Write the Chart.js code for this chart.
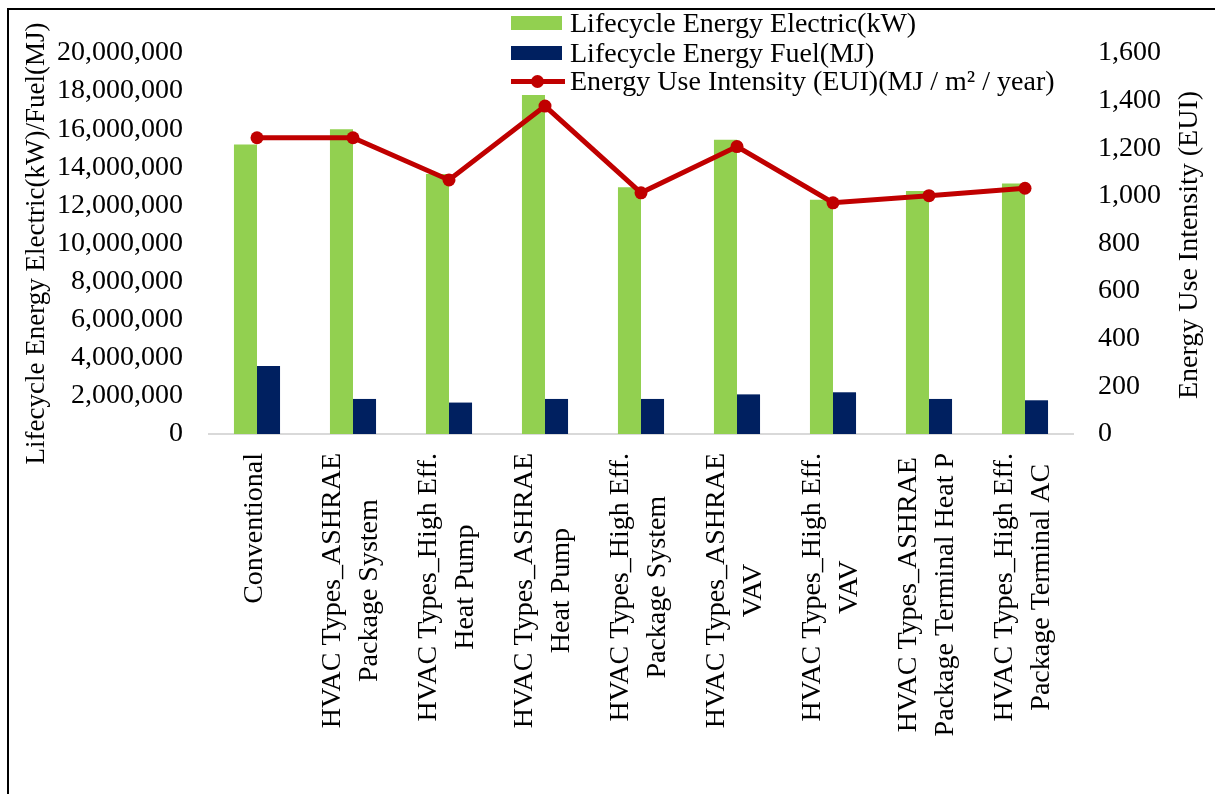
<!DOCTYPE html>
<html>
<head>
<meta charset="utf-8">
<script src="https://cdn.jsdelivr.net/npm/chart.js@4"></script>
<style>
  body { margin: 0; background: #fff; }
  #wrap { position: relative; width: 1215px; height: 794px; overflow: hidden; }
  #frame { position: absolute; left: 7px; top: 8px; right: -4px; bottom: -4px; border-top: 2px solid #000; border-left: 2px solid #000; pointer-events: none; }
  .leg { position: absolute; left: 511px; font: 28px "Liberation Serif", "Times New Roman", serif; line-height: 28px; color: #000; white-space: nowrap; }
  .leg .txt { position: absolute; left: 59px; top: 0; }
  .sw { position: absolute; left: 0; width: 51px; height: 14px; top: 7px; }
  .ln { position: absolute; left: 0; width: 54px; height: 5px; top: 12px; background: #C00000; }
  .dot { position: absolute; left: 20px; top: 8px; width: 13px; height: 13px; border-radius: 50%; background: #C00000; }
</style>
</head>
<body>
<div id="wrap">
  <canvas id="energyChart" width="1215" height="794"></canvas>
  <div id="frame"></div>
  <div class="leg" style="top:9px"><div class="sw" style="background:#92D050"></div><span class="txt">Lifecycle Energy Electric(kW)</span></div>
  <div class="leg" style="top:39px"><div class="sw" style="background:#002060"></div><span class="txt">Lifecycle Energy Fuel(MJ)</span></div>
  <div class="leg" style="top:67px"><div class="ln"></div><div class="dot"></div><span class="txt">Energy Use Intensity (EUI)(MJ / m² / year)</span></div>
</div>
<script>
// --- DATA ---
const categories = [
    ['Conventional'],
    ['HVAC Types_ASHRAE', 'Package System'],
    ['HVAC Types_High Eff.', 'Heat Pump'],
    ['HVAC Types_ASHRAE', 'Heat Pump'],
    ['HVAC Types_High Eff.', 'Package System'],
    ['HVAC Types_ASHRAE', 'VAV'],
    ['HVAC Types_High Eff.', 'VAV'],
    ['HVAC Types_ASHRAE', 'Package Terminal Heat P'],
    ['HVAC Types_High Eff.', 'Package Terminal AC']
];
const electricEnergy = [15200000, 16000000, 13650000, 17800000, 12950000, 15450000, 12300000, 12750000, 13150000];
const fuelEnergy = [3570000, 1840000, 1650000, 1840000, 1840000, 2080000, 2190000, 1840000, 1770000];
const euiValues = [1244, 1244, 1067, 1377, 1013, 1207, 971, 1001, 1032];

const FONT = '"Liberation Serif", "Times New Roman", serif';

// --- PLUGIN: x labels (centered lines) + right axis title ---
const extraText = {
    id: 'extraText',
    afterDraw(chart) {
        const ctx = chart.ctx;
        const xScale = chart.scales.x;
        const top = chart.chartArea.bottom + 19;
        ctx.save();
        ctx.fillStyle = '#000';
        ctx.font = '28px ' + FONT;
        ctx.textAlign = 'center';
        ctx.textBaseline = 'middle';
        categories.forEach((lines, i) => {
            const cx = xScale.getPixelForValue(i);
            const maxW = Math.max(...lines.map(l => ctx.measureText(l).width));
            const gap = 37;
            const first = cx - 2 - (lines.length - 1) * gap / 2;
            lines.forEach((line, j) => {
                ctx.save();
                ctx.translate(first + j * gap, top + maxW / 2);
                ctx.rotate(-Math.PI / 2);
                ctx.fillText(line, 0, 0);
                ctx.restore();
            });
        });
        // judul sumbu kanan
        ctx.save();
        ctx.translate(1190, 245);
        ctx.rotate(-Math.PI / 2);
        ctx.fillText('Energy Use Intensity (EUI)', 0, 0);
        ctx.restore();
        ctx.restore();
    }
};

const ctx = document.getElementById('energyChart').getContext('2d');
new Chart(ctx, {
    type: 'bar',
    data: {
        labels: categories,
        datasets: [
            {
                type: 'line',
                label: 'Energy Use Intensity (EUI)(MJ / m² / year)',
                data: euiValues,
                yAxisID: 'y1',
                borderColor: '#C00000',
                backgroundColor: '#C00000',
                borderWidth: 5,
                pointRadius: 6.5,
                pointBackgroundColor: '#C00000',
                pointBorderWidth: 0,
                tension: 0,
                order: 0
            },
            {
                label: 'Lifecycle Energy Electric(kW)',
                data: electricEnergy,
                yAxisID: 'y',
                backgroundColor: '#92D050',
                order: 1
            },
            {
                label: 'Lifecycle Energy Fuel(MJ)',
                data: fuelEnergy,
                yAxisID: 'y',
                backgroundColor: '#002060',
                order: 1
            }
        ]
    },
    options: {
        responsive: false,
        animation: false,
        layout: { padding: { top: 53, left: 0, right: 0, bottom: 0 } },
        datasets: { bar: { barPercentage: 1, categoryPercentage: 0.48 } },
        plugins: {
            legend: { display: false },
            tooltip: { enabled: false }
        },
        scales: {
            x: {
                grid: { display: false, drawTicks: false },
                border: { display: true, color: '#d9d9d9', width: 2 },
                ticks: { display: false },
                afterFit: (s) => { s.height = 360; }
            },
            y: {
                position: 'left',
                min: 0,
                max: 20000000,
                grid: { display: false, drawTicks: false },
                border: { display: false },
                ticks: {
                    stepSize: 2000000,
                    autoSkip: false,
                    padding: 26,
                    color: '#000',
                    font: { family: FONT, size: 28 },
                    callback: (v) => v.toLocaleString('en-US')
                },
                title: {
                    display: true,
                    text: 'Lifecycle Energy Electric(kW)/Fuel(MJ)',
                    color: '#000',
                    font: { family: FONT, size: 27 },
                    padding: { top: 21, bottom: 0 }
                },
                afterFit: (s) => { s.width = 209; }
            },
            y1: {
                position: 'right',
                min: 0,
                max: 1600,
                grid: { display: false, drawTicks: false },
                border: { display: false },
                ticks: {
                    stepSize: 200,
                    autoSkip: false,
                    padding: 25,
                    color: '#000',
                    font: { family: FONT, size: 28 },
                    callback: (v) => v.toLocaleString('en-US')
                },
                afterFit: (s) => { s.width = 142; }
            }
        }
    },
    plugins: [extraText]
});
</script>
</body>
</html>
